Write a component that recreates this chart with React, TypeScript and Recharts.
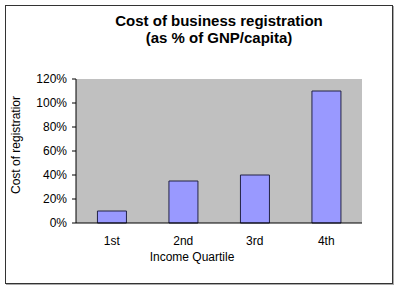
import { Bar, BarChart, CartesianGrid, XAxis, YAxis } from "recharts";

const quartiles = ["1st", "2nd", "3rd", "4th"];
const costShare = [0.1, 0.35, 0.4, 1.1];
const yTicks = [0, 0.2, 0.4, 0.6, 0.8, 1.0, 1.2];
const edgeTicks = [0, 1, 2, 3, 4];

const data = quartiles.map((q, i) => ({ quartile: q, cost: costShare[i] }));

const font = "'Liberation Sans', Arial, sans-serif";

// rotated y-axis title, placed from the axis box that recharts hands over
function YTitle(props: any) {
  const vb = props.viewBox || { x: 0, y: 0, width: 0, height: 0 };
  const cx = vb.x + 11;
  const cy = vb.y + vb.height / 2 - 6;
  return (
    <text
      x={cx}
      y={cy}
      transform={`rotate(-90, ${cx}, ${cy})`}
      textAnchor="middle"
      dominantBaseline="central"
      fontSize={12}
      fontFamily={font}
      fill="#000"
    >
      Cost of registratior
    </text>
  );
}

export default function App() {
  return (
    <div style={{ position: "absolute", left: 0, top: 0, width: 400, height: 290, background: "#fff", fontFamily: font }}>
      <div
        style={{
          position: "absolute",
          left: 5,
          top: 5,
          width: 388,
          height: 279,
          boxSizing: "border-box",
          border: "1px solid #333",
          boxShadow: "1px 1px 0 #aaa",
        }}
      />
      <div
        style={{
          position: "absolute",
          left: 0,
          width: 438,
          top: 12,
          textAlign: "center",
          fontWeight: "bold",
          fontSize: 15,
          lineHeight: "17px",
          color: "#000",
        }}
      >
        Cost of business registration
        <br />
        (as % of GNP/capita)
      </div>
      <BarChart
        width={400}
        height={290}
        data={data}
        margin={{ top: 79, right: 38, bottom: 22, left: 5 }}
        barCategoryGap="30%"
        style={{ position: "absolute", left: 0, top: 0 }}
      >
        <CartesianGrid horizontal={false} vertical={false} fill="#C0C0C0" />
        <XAxis
          xAxisId="edges"
          type="number"
          domain={[0, 4]}
          ticks={edgeTicks}
          height={0}
          axisLine={false}
          tickSize={5}
          tickLine={{ stroke: "#000" }}
          tickFormatter={() => ""}
        />
        <XAxis
          dataKey="quartile"
          height={45}
          axisLine={{ stroke: "#000" }}
          tickLine={false}
          tickSize={0}
          tickMargin={13}
          tick={{ fontSize: 12, fill: "#000", fontFamily: font }}
          label={{ value: "Income Quartile", position: "insideBottom", offset: 7, dx: -27, fontSize: 12, fill: "#000", fontFamily: font }}
        />
        <XAxis
          xAxisId="top"
          orientation="top"
          type="number"
          domain={[0, 4]}
          height={0}
          axisLine={{ stroke: "#808080" }}
          tickLine={false}
          tick={false}
        />
        <YAxis
          width={71}
          domain={[0, 1.2]}
          ticks={yTicks}
          axisLine={{ stroke: "#000" }}
          tickLine={{ stroke: "#000" }}
          tickSize={4}
          tickMargin={5}
          tickFormatter={(v: number) => `${Math.round(v * 100)}%`}
          tick={{ fontSize: 12, fill: "#000", fontFamily: font }}
          label={{ content: YTitle }}
        />
        <YAxis
          yAxisId="right"
          orientation="right"
          width={0}
          domain={[0, 1.2]}
          axisLine={{ stroke: "#808080" }}
          tickLine={false}
          tick={false}
        />
        <Bar dataKey="cost" fill="#9999FF" stroke="#222244" strokeWidth={1} isAnimationActive={false} />
      </BarChart>
    </div>
  );
}
